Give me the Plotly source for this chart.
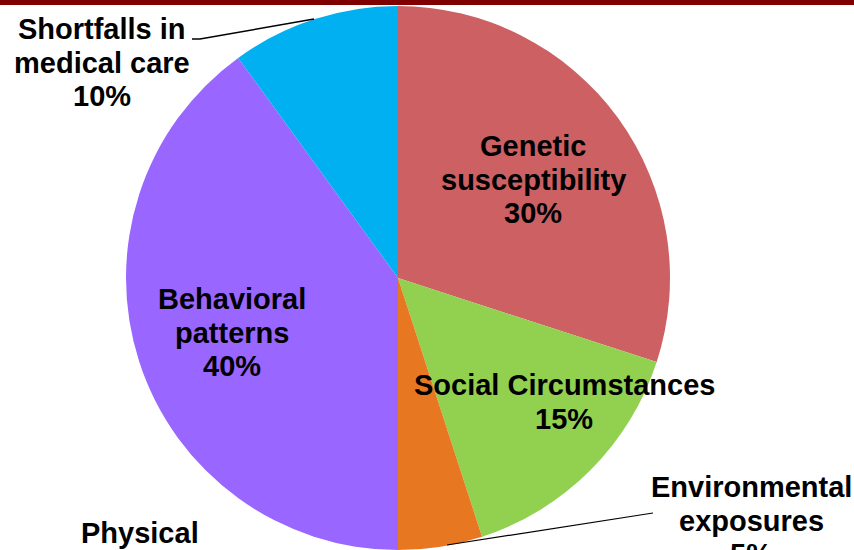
import plotly.graph_objects as go

W, H = 854, 550

categories = ["Genetic susceptibility", "Social Circumstances", "Environmental exposures",
              "Behavioral patterns", "Shortfalls in medical care"]
values = [30, 15, 5, 40, 10]
colors = ["#CD6062", "#92D050", "#E87722", "#9966FF", "#00B0F0"]

# label lines (text) for each slice, plus an extra cut-off caption
label_lines = [
    ["Genetic", "susceptibility", "30%"],
    ["Social Circumstances", "15%"],
    ["Environmental", "exposures", "5%"],
    ["Behavioral", "patterns", "40%"],
    ["Shortfalls in", "medical care", "10%"],
]
extra_caption = "Physical"

# label placement (pixel centre of first line) - layout only
label_pos = [(533, 146), (564, 385), (751, 487), (232, 299), (102, 29)]
line_gap = 33.5

fig = go.Figure(go.Pie(
    labels=categories, values=values, sort=False, direction="clockwise", rotation=0,
    marker=dict(colors=colors, line=dict(width=0)),
    textinfo="none", hoverinfo="label+percent", showlegend=False,
    domain=dict(x=[126 / W, 670 / W], y=[0, 544 / H]),
))

def px(x):
    return x / W

def py(y):
    return 1 - y / H

font = dict(family="Liberation Sans, Arial, sans-serif", size=29, color="black")
ann = []
for lines, (cx, cy) in zip(label_lines, label_pos):
    for i, t in enumerate(lines):
        ann.append(dict(x=px(cx), y=py(cy + i * line_gap), xref="paper", yref="paper",
                        text="<b>%s</b>" % t, showarrow=False, xanchor="center",
                        yanchor="middle", font=font))
ann.append(dict(x=px(140), y=py(533), xref="paper", yref="paper",
                text="<b>%s</b>" % extra_caption, showarrow=False, xanchor="center",
                yanchor="middle", font=font))

shapes = [
    dict(type="rect", xref="paper", yref="paper", x0=0, x1=1, y0=py(5), y1=1.01,
         fillcolor="#800000", line=dict(width=0), layer="above"),
    dict(type="path", xref="paper", yref="paper",
         path="M %f %f L %f %f L %f %f" % (px(192), py(39), px(200), py(39), px(314), py(19)),
         line=dict(color="black", width=1.5)),
    dict(type="path", xref="paper", yref="paper",
         path="M %f %f L %f %f" % (px(447), py(545), px(653), py(513)),
         line=dict(color="black", width=1.2)),
]

fig.update_layout(
    width=W, height=H, margin=dict(l=0, r=0, t=0, b=0),
    paper_bgcolor="white", plot_bgcolor="white",
    annotations=ann, shapes=shapes,
)

fig.write_html("out.html", config={"displayModeBar": False},
               post_script="document.body.style.margin='0';document.body.style.overflow='hidden';")
